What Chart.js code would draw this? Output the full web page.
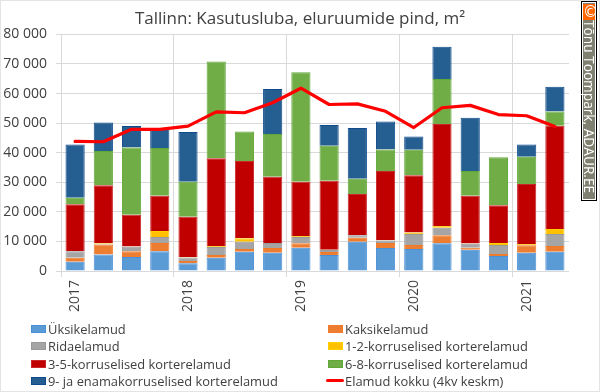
<!DOCTYPE html>
<html><head><meta charset="utf-8">
<script src="https://cdn.jsdelivr.net/npm/chart.js@4"></script>
<style>
html,body{margin:0;padding:0;background:#fff}
#wrap{position:relative;width:600px;height:392px;overflow:hidden;font-family:"Open Sans",sans-serif}
#frame{position:absolute;left:0;top:0;width:598px;height:390px;border:1px solid #e4e4e4}
canvas{position:absolute;left:0;top:0}
#legend{position:absolute;left:0;top:0;width:600px;height:392px;color:#404040;font-size:12.9px;pointer-events:none}
.li{position:absolute;white-space:nowrap;line-height:16px;height:16px}
.sw{position:absolute;left:0;top:4px;width:15px;height:8px;box-sizing:border-box;border:1px solid}
.ln{position:absolute;left:-2px;top:6px;width:18px;height:3px;background:#f00;border-radius:2px}
.tx{position:absolute;left:17px;top:0}
#badge{position:absolute;left:581px;top:1px;width:14px;height:198px;border:1px solid #000;background:#808070;outline:1px solid #fff;outline-offset:-2px}
#cbox{position:absolute;left:1px;top:2px;width:12px;height:16px;background:#ff6600;color:#fff;font:15px/16px "DejaVu Sans",sans-serif;text-align:center;overflow:hidden}
#ctext{position:absolute;left:0;top:18px;width:178px;height:14px;transform-origin:0 0;transform:translateX(14px) rotate(90deg);color:#fff;font:13.7px/14px "Open Sans",sans-serif;white-space:nowrap}
</style></head><body>
<div id="wrap">
<div id="frame"></div>
<canvas id="c" width="600" height="392"></canvas>
<div id="legend"></div>
<div id="badge"><div id="cbox">©</div><div id="ctext">Tõnu Toompark, ADAUR.EE</div></div>
</div>
<script>
const chartTitle = "Tallinn: Kasutusluba, eluruumide pind, m²";
const quarters = ["2017","","","","2018","","","","2019","","","","2020","","","","2021",""];
const yTicks = [0,10000,20000,30000,40000,50000,60000,70000,80000];
const names = ["Üksikelamud","Kaksikelamud","Ridaelamud","1-2-korruselised korterelamud","3-5-korruselised korterelamud","6-8-korruselised korterelamud","9- ja enamakorruselised korterelamud"];
const lineName = "Elamud kokku (4kv keskm)";
const uksik  = [3150,5600,4700,6650,2600,4500,6500,6200,7900,5400,9900,7800,7400,9350,7200,5050,6200,6500];
const kaksik = [1350,3400,1950,2800,800,900,900,1600,1450,1000,1350,1650,1400,2700,700,700,2500,1950];
const rida   = [2150,200,1550,2050,1200,2700,2500,1650,2150,700,800,900,3700,2600,1300,3050,100,4050];
const k12    = [50,250,100,2000,100,350,1200,50,300,50,50,50,550,550,100,650,300,1700];
const k35    = [15900,19550,10700,11950,13650,29650,26100,22350,18400,23400,13950,23450,19350,34500,16150,12750,20300,34900];
const k68    = [2200,11600,22800,16150,11850,32700,10000,14500,37000,11800,5100,7200,8600,15200,8350,16300,9200,4800];
const k9     = [18000,9600,7200,6400,16800,0,0,15200,0,7000,17200,9500,4500,10900,18000,0,4200,8400];
const kokku  = [43800,43700,47900,47900,49000,53800,53500,56900,61800,56300,56500,54000,48500,55200,56000,52900,52500,48900];
const series = [uksik,kaksik,rida,k12,k35,k68,k9];
const fills   = ["#5B9BD5","#ED7D31","#A5A5A5","#FFC000","#C00000","#70AD47","#255E91"];
const borders = ["#4a90d8","#f07a28","#9a9a9a","#ffd000","#c8282c","#5fa838","#0f4a8c"];
const txt = "#404040";

const datasets = series.map((d,i)=>({type:"bar",label:names[i],data:d,backgroundColor:fills[i],borderColor:borders[i],borderWidth:1,order:2,categoryPercentage:1,barPercentage:0.68}));
datasets.push({type:"line",label:lineName,data:kokku,borderColor:"#ff0000",borderWidth:3.2,pointRadius:0,tension:0,borderCapStyle:"round",borderJoinStyle:"round",order:1,fill:false});

new Chart(document.getElementById("c"),{
  data:{labels:quarters,datasets},
  options:{
    responsive:false,animation:false,
    plugins:{legend:{display:false},tooltip:{enabled:false},
      title:{display:true,text:chartTitle,color:txt,font:{family:"Open Sans",size:17,weight:"normal"},padding:{top:9,bottom:5}}},
    scales:{
      x:{stacked:true,offset:true,
        afterFit(s){s.height=121;},
        grid:{offset:true,drawTicks:true,tickLength:6,color:c=>c.index%4===0?"#d9d9d9":"rgba(0,0,0,0)",tickColor:c=>c.index%4===0?"#d9d9d9":"rgba(0,0,0,0)"},
        border:{display:false},
        ticks:{autoSkip:false,maxRotation:90,minRotation:90,color:txt,padding:3,font:{family:"Open Sans",size:14}}},
      y:{stacked:true,min:0,max:80000,
        afterFit(s){s.width=61;},
        afterBuildTicks(s){s.ticks=yTicks.map(v=>({value:v}));},
        grid:{color:"#d9d9d9",tickLength:5,tickColor:"#d9d9d9"},
        border:{display:false},
        ticks:{color:txt,padding:9,font:{family:"Open Sans",size:14},callback:v=>String(v).replace(/\B(?=(\d{3})+$)/g," ")}},
      gutter:{position:"right",display:true,afterFit(s){s.width=31;},grid:{display:false},border:{display:false},ticks:{display:false}}
    }
  }
});

const lg=document.getElementById("legend");
const xs=[31,328], ys=[329,346.3,363.6,381];
[...names,lineName].forEach((n,i)=>{
  const el=document.createElement("div");el.className="li";
  el.style.left=xs[i%2]+"px";el.style.top=(ys[Math.floor(i/2)]-8)+"px";
  const isLine=i===names.length;
  const mark=document.createElement("div");
  if(isLine){mark.className="ln";}else{mark.className="sw";mark.style.background=fills[i];mark.style.borderColor=borders[i];}
  const t=document.createElement("div");t.className="tx";t.textContent=n;
  el.append(mark,t);lg.append(el);
});
</script>
</body></html>
